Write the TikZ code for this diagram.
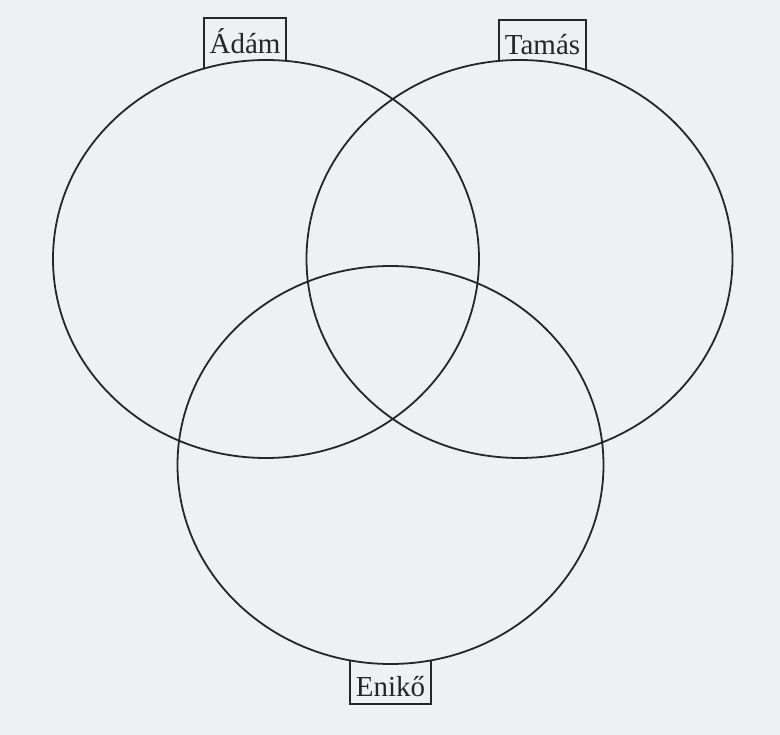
\documentclass[tikz,border=0pt]{standalone}
\usepackage{fontspec}
\setmainfont{Liberation Serif}
\usepackage{xcolor}
\usepackage{tikz}
\usetikzlibrary{positioning}
\definecolor{papercol}{RGB}{239,240,243}
\definecolor{inkcol}{RGB}{38,38,38}

\begin{document}
\begin{tikzpicture}[
                x=1pt, y=-1pt,
                setline/.style={draw=inkcol, line width=1.8pt},
                setellipse/.style={x radius=213pt, y radius=199pt},
                namebox/.style={draw=inkcol, line width=1.6pt, inner sep=0pt, align=center,
                                font=\fontsize{29}{34}\selectfont, text=inkcol}
                ]
                \fill[papercol] (0,0) rectangle (780,735);
                \useasboundingbox (0,0) rectangle (780,735);

                \coordinate (adamc) at (266,259);
                \coordinate (tamasc) at (519.5,259);
                \coordinate (enikoc) at (390.5,465);

                \draw[setline] (adamc) ellipse [setellipse];
                \draw[setline] (tamasc) ellipse [setellipse];
                \draw[setline] (enikoc) ellipse [setellipse];

                % label boxes stop where they meet their own circle
                \begin{scope}[even odd rule]
                    \clip (0,0) rectangle (780,735) (adamc) ellipse [x radius=213pt, y radius=199pt];
                    \node[namebox, anchor=north, minimum width=82pt, text height=36pt, text depth=34pt] (adam) at (245,17) {Ádám};
                \end{scope}
                \begin{scope}[even odd rule]
                    \clip (0,0) rectangle (780,735) (tamasc) ellipse [x radius=213pt, y radius=199pt];
                    \node[namebox, anchor=north, minimum width=87pt, text height=35pt, text depth=34pt] (tamas) at (542.5,19) {Tamás};
                \end{scope}
                \begin{scope}[even odd rule]
                    \clip (0,0) rectangle (780,735) (enikoc) ellipse [x radius=213pt, y radius=199pt];
                    \node[namebox, anchor=south, minimum width=81pt, text height=60pt, text depth=8pt] (eniko) at (390.5,705) {Enikő};
                \end{scope}
            \end{tikzpicture}
\end{document}
